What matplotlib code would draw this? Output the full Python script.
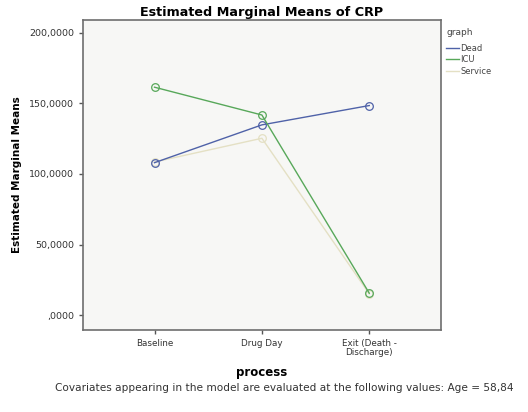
import matplotlib.pyplot as plt

# Estimated marginal means of CRP by process stage
process = ["Baseline", "Drug Day", "Exit (Death -\nDischarge)"]
dead = [108.0, 134.8, 148.5]
icu = [161.5, 141.8, 15.5]
service = [108.5, 125.3, 15.0]

colors = {"Dead": "#4f62a8", "ICU": "#58a85a", "Service": "#e4e0c4"}

fig = plt.figure(figsize=(5.28, 4.12), dpi=100)
ax = fig.add_axes([0.157, 0.199, 0.678, 0.752])
ax.set_facecolor("#f7f7f5")

x = range(len(process))
for name, vals in [("Service", service), ("Dead", dead), ("ICU", icu)]:
    ax.plot(x, vals, color=colors[name], lw=1.0, marker="o", ms=5.5,
            mfc="none", mec=colors[name], mew=0.9, label=name)

ax.set_xlim(-0.667, 2.667)
ax.set_ylim(-10.6, 209)
ax.set_xticks(list(x))
ax.set_xticklabels(process, fontsize=6.3, color="#333333", linespacing=0.95)
yt = [0, 50, 100, 150, 200]
ax.set_yticks(yt)
ax.set_yticklabels([",0000", "50,0000", "100,0000", "150,0000", "200,0000"],
                   fontsize=6.8, color="#333333")
ax.tick_params(length=3, width=1, color="#555555")
for s in ax.spines.values():
    s.set_color("#6e6e6e")
    s.set_linewidth(1.2)

ax.set_title("Estimated Marginal Means of CRP", fontsize=9.2, fontweight="bold", pad=3)
ax.set_ylabel("Estimated Marginal Means", fontsize=7.5, fontweight="bold", labelpad=5)
ax.set_xlabel("process", fontsize=8.5, fontweight="bold", labelpad=7)

handles, labels = ax.get_legend_handles_labels()
order = [labels.index(n) for n in ["Dead", "ICU", "Service"]]
leg = fig.legend([plt.Line2D([], [], color=colors[labels[i]], lw=1.0) for i in order],
                 [labels[i] for i in order], title="graph",
                 loc="upper left", bbox_to_anchor=(0.836, 0.945), frameon=False,
                 fontsize=6, title_fontsize=6.5, handlelength=1.5, handletextpad=0.2,
                 labelspacing=0.3, alignment="left", borderaxespad=0.2)
leg._legend_box.sep = 5
for t in leg.get_texts():
    t.set_color("#444444")
leg.get_title().set_color("#444444")

fig.text(0.104, 0.052,
         "Covariates appearing in the model are evaluated at the following values: Age = 58,84",
         fontsize=7.6, color="#333333", ha="left")

fig.savefig("out.png", dpi=100, facecolor="white")
